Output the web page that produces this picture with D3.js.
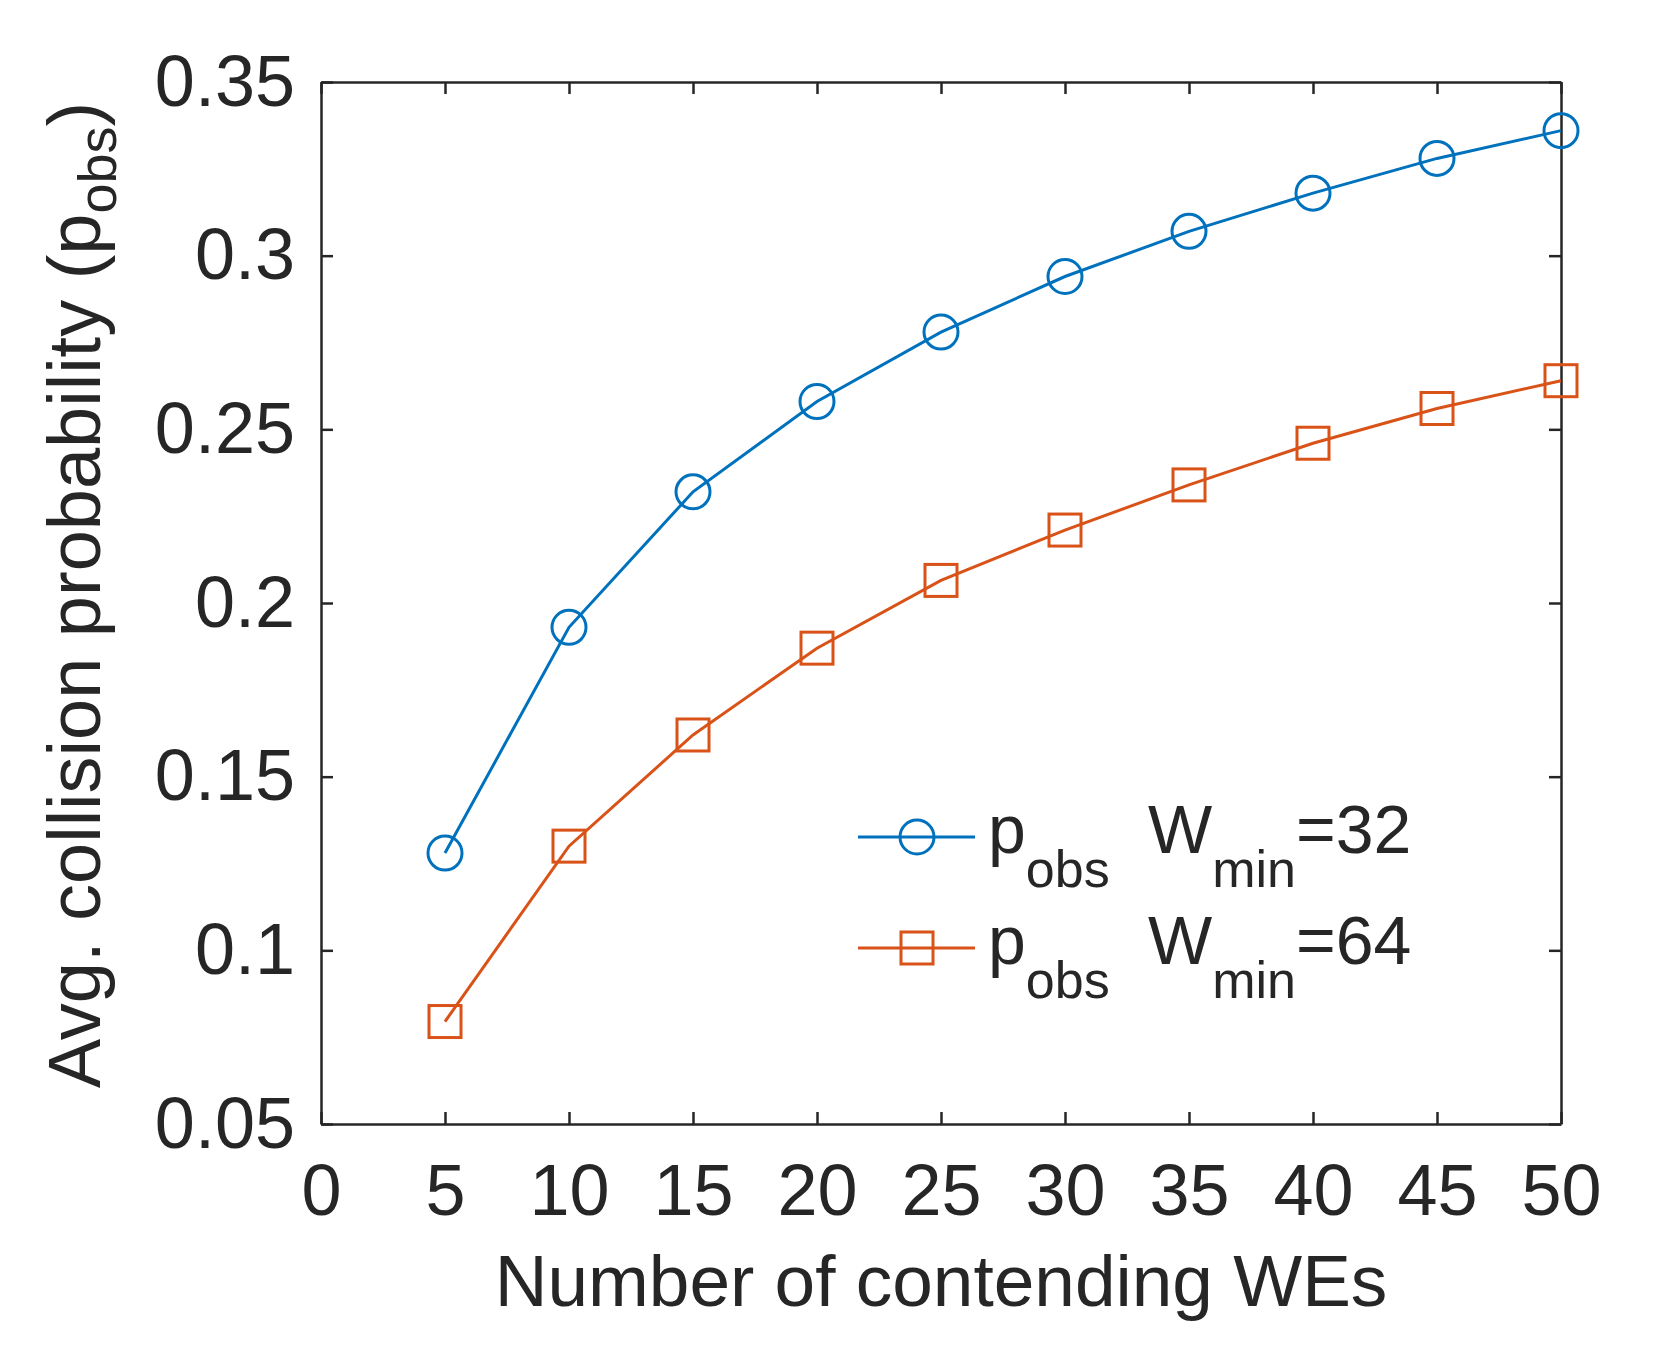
<!DOCTYPE html>
<html>
<head>
<meta charset="utf-8">
<script src="https://cdn.jsdelivr.net/npm/d3@7"></script>
<style>
  body { margin: 0; background: #fff; }
  text { font-family: "Liberation Sans", Arial, sans-serif; fill: #262626; }
</style>
</head>
<body>
<div id="chart"></div>
<script>
// number of contending WEs
var users = [5, 10, 15, 20, 25, 30, 35, 40, 45, 50];
// avg. collision probability, Wmin = 32 and Wmin = 64
var pobs32 = [0.128, 0.193, 0.232, 0.258, 0.278, 0.294, 0.307, 0.318, 0.328, 0.336];
var pobs64 = [0.0795, 0.130, 0.162, 0.187, 0.2065, 0.221, 0.234, 0.246, 0.256, 0.264];
var xTicks = [0, 5, 10, 15, 20, 25, 30, 35, 40, 45, 50];
var yTicks = [0.05, 0.1, 0.15, 0.2, 0.25, 0.3, 0.35];
var legendLabels = ["=32", "=64"];

var width = 1661, height = 1365;
var margin = {top: 82, right: 100, bottom: 241, left: 321};
var axisColor = "#262626";
var blue = "#0072BD", orange = "#D95319";

var svg = d3.select("#chart").append("svg")
    .attr("width", width)
    .attr("height", height);

var x = d3.scaleLinear().domain([0, 50]).range([margin.left, width - margin.right]);
var y = d3.scaleLinear().domain([0.05, 0.35]).range([height - margin.bottom, margin.top]);

var tickLen = 12;
var fmt = function(d) { return d3.format("")(+d.toFixed(2)); };

// axes with inward ticks on all four sides
var gx = svg.append("g")
    .attr("transform", "translate(0," + y.range()[0] + ")")
    .call(d3.axisBottom(x).tickValues(xTicks).tickSizeInner(-tickLen).tickSizeOuter(0).tickPadding(40));
var gxTop = svg.append("g")
    .attr("transform", "translate(0," + y.range()[1] + ")")
    .call(d3.axisTop(x).tickValues(xTicks).tickSizeInner(-tickLen).tickSizeOuter(0).tickFormat(""));
var gy = svg.append("g")
    .attr("transform", "translate(" + x.range()[0] + ",0)")
    .call(d3.axisLeft(y).tickValues(yTicks).tickSizeInner(-tickLen).tickSizeOuter(0).tickPadding(26).tickFormat(fmt));
var gyRight = svg.append("g")
    .attr("transform", "translate(" + x.range()[1] + ",0)")
    .call(d3.axisRight(y).tickValues(yTicks).tickSizeInner(-tickLen).tickSizeOuter(0).tickFormat(""));

[gx, gxTop, gy, gyRight].forEach(function(g) {
    g.selectAll("path.domain").attr("stroke", axisColor).attr("stroke-width", 2.5);
    g.selectAll(".tick line").attr("stroke", axisColor).attr("stroke-width", 2.5);
    g.selectAll(".tick text").attr("font-size", 72).attr("font-family", "Liberation Sans, Arial, sans-serif").attr("fill", axisColor);
});
gx.selectAll(".tick text").attr("dy", "0.71em");

// axis labels
svg.append("text")
    .attr("x", (x.range()[0] + x.range()[1]) / 2)
    .attr("y", 1306)
    .attr("text-anchor", "middle")
    .attr("font-size", 73)
    .text("Number of contending WEs");

var ylab = svg.append("text")
    .attr("transform", "translate(100," + ((y.range()[0] + y.range()[1]) / 2 - 8) + ") rotate(-90)")
    .attr("text-anchor", "middle")
    .attr("font-size", 74);
ylab.append("tspan").text("Avg. collision probability (p");
ylab.append("tspan").attr("font-size", 54).attr("dy", 16).text("obs");
ylab.append("tspan").attr("dy", -16).text(")");

// series
var line = d3.line()
    .x(function(d, i) { return x(users[i]); })
    .y(function(d) { return y(d); });

svg.append("path").datum(pobs32)
    .attr("fill", "none").attr("stroke", blue).attr("stroke-width", 3)
    .attr("d", line);
svg.append("path").datum(pobs64)
    .attr("fill", "none").attr("stroke", orange).attr("stroke-width", 3)
    .attr("d", line);

var r = 17, s = 16;
svg.selectAll("circle.m32").data(pobs32).enter().append("circle")
    .attr("class", "m32")
    .attr("cx", function(d, i) { return x(users[i]); })
    .attr("cy", function(d) { return y(d); })
    .attr("r", r)
    .attr("fill", "none").attr("stroke", blue).attr("stroke-width", 3);
svg.selectAll("rect.m64").data(pobs64).enter().append("rect")
    .attr("class", "m64")
    .attr("x", function(d, i) { return x(users[i]) - s; })
    .attr("y", function(d) { return y(d) - s; })
    .attr("width", 2 * s).attr("height", 2 * s)
    .attr("fill", "none").attr("stroke", orange).attr("stroke-width", 3);

// legend (no box)
var legend = svg.append("g");
var legendY = [837, 948];
var colors = [blue, orange];
legendLabels.forEach(function(lab, i) {
    var g = legend.append("g").attr("transform", "translate(0," + legendY[i] + ")");
    g.append("line").attr("x1", 858).attr("x2", 975).attr("y1", 0).attr("y2", 0)
        .attr("stroke", colors[i]).attr("stroke-width", 3);
    if (i === 0) {
        g.append("circle").attr("cx", 917).attr("cy", 0).attr("r", r)
            .attr("fill", "none").attr("stroke", colors[i]).attr("stroke-width", 3);
    } else {
        g.append("rect").attr("x", 917 - s).attr("y", -s).attr("width", 2 * s).attr("height", 2 * s)
            .attr("fill", "none").attr("stroke", colors[i]).attr("stroke-width", 3);
    }
    var t = g.append("text").attr("x", 988).attr("y", 16).attr("font-size", 68).attr("fill", "#000");
    t.append("tspan").text("p");
    t.append("tspan").attr("font-size", 52).attr("dy", 34).text("obs");
    t.append("tspan").attr("x", 1148).attr("dy", -34).text("W");
    t.append("tspan").attr("font-size", 52).attr("dy", 34).text("min");
    t.append("tspan").attr("dy", -34).text(lab);
});
</script>
</body>
</html>
